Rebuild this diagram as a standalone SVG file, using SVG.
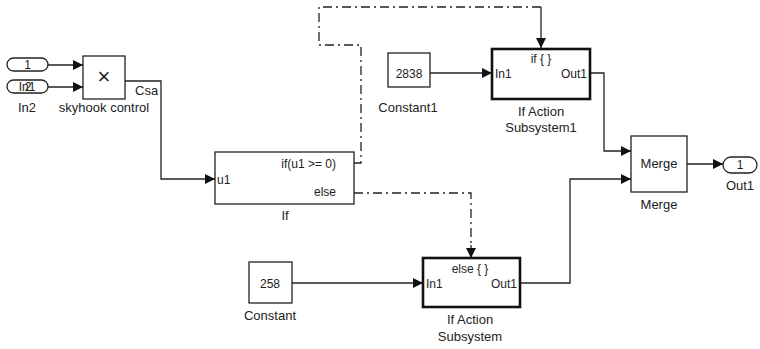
<svg xmlns="http://www.w3.org/2000/svg" width="760" height="349" viewBox="0 0 760 349">
<defs>
<marker id="ah" viewBox="0 0 10 10" refX="10" refY="5" markerWidth="10" markerHeight="10" markerUnits="userSpaceOnUse" orient="auto">
<path d="M0,0 L10,5 L0,10 z" fill="#111"/>
</marker>
</defs>
<style>
text{font-family:"Liberation Sans",Arial,sans-serif;fill:#222;font-size:13px}
.blk{fill:#fff;stroke:#222;stroke-width:1.3}
.sub{fill:#fff;stroke:#111;stroke-width:2.6}
.port{fill:#fff;stroke:#222;stroke-width:1.3}
.ln{fill:none;stroke:#222;stroke-width:1.3}
.dl{fill:none;stroke:#222;stroke-width:1.3;stroke-dasharray:9,4,2,4}
.c{text-anchor:middle}
.r{text-anchor:end}
.sm{font-size:12px}
</style>
<g id="connectors">
<path class="ln" d="M48,65 H83" marker-end="url(#ah)"/>
<path class="ln" d="M48,87 H83" marker-end="url(#ah)"/>
<path class="ln" d="M125,81 H161 V179 H215" marker-end="url(#ah)"/>
<path class="dl" d="M354,163 H361 V45 H319 V7 H541"/>
<path class="ln" d="M541,7 V48" marker-end="url(#ah)"/>
<path class="dl" d="M354,193 H471 V247"/>
<path class="ln" d="M471,245 V258" marker-end="url(#ah)"/>
<path class="ln" d="M430,73 H492" marker-end="url(#ah)"/>
<path class="ln" d="M292,283 H423" marker-end="url(#ah)"/>
<path class="ln" d="M590,73 H604 V151 H631" marker-end="url(#ah)"/>
<path class="ln" d="M520,283 H570 V179 H631" marker-end="url(#ah)"/>
<path class="ln" d="M687,164 H723" marker-end="url(#ah)"/>
</g>
<g id="In1">
<rect class="port" x="7" y="58" width="41" height="13" rx="6.5"/>
<text class="c sm" x="27.5" y="69">1</text>
</g>
<g id="In2">
<rect class="port" x="7" y="80" width="41" height="13" rx="6.5"/>
<text class="c sm" x="28" y="91">2</text>
<text class="c sm" x="27" y="91">In1</text>
<text class="c" x="27" y="112">In2</text>
</g>
<g id="skyhook">
<rect class="blk" x="83" y="56" width="42" height="43"/>
<text class="c" x="104" y="84" style="font-size:22px;font-weight:300">×</text>
<text class="c" x="104" y="112">skyhook control</text>
<text x="135" y="95">Csa</text>
</g>
<g id="If">
<rect class="blk" x="215" y="152" width="139" height="52"/>
<text class="sm" x="217" y="184">u1</text>
<text class="r sm" x="336" y="168">if(u1 &gt;= 0)</text>
<text class="r sm" x="336" y="196">else</text>
<text class="c" x="285" y="220">If</text>
</g>
<g id="Constant1">
<rect class="blk" x="388" y="53" width="42" height="34"/>
<text class="c sm" x="409" y="78">2838</text>
<text class="c" x="408" y="112">Constant1</text>
</g>
<g id="IfActionSubsystem1">
<rect class="sub" x="492" y="49" width="98" height="50"/>
<text class="c sm" x="541" y="63">if { }</text>
<text class="sm" x="495" y="78">In1</text>
<text class="r sm" x="587" y="78">Out1</text>
<text class="c" x="541" y="116">If Action</text>
<text class="c" x="541" y="132">Subsystem1</text>
</g>
<g id="Constant">
<rect class="blk" x="249" y="262" width="43" height="41"/>
<text class="c sm" x="270" y="288">258</text>
<text class="c" x="270" y="320">Constant</text>
</g>
<g id="IfActionSubsystem">
<rect class="sub" x="423" y="258" width="97" height="49"/>
<text class="c sm" x="470" y="273">else { }</text>
<text class="sm" x="426" y="288">In1</text>
<text class="r sm" x="517" y="288">Out1</text>
<text class="c" x="470" y="324">If Action</text>
<text class="c" x="470" y="341">Subsystem</text>
</g>
<g id="Merge">
<rect class="blk" x="631" y="136" width="56" height="56"/>
<text class="c" x="659" y="168">Merge</text>
<text class="c" x="659" y="209">Merge</text>
</g>
<g id="Out1">
<rect class="port" x="723" y="157" width="34" height="16" rx="8"/>
<text class="c sm" x="740" y="169">1</text>
<text class="c" x="740" y="190">Out1</text>
</g>
</svg>
